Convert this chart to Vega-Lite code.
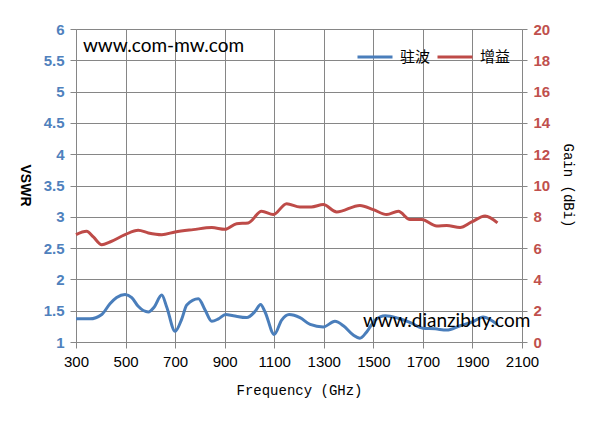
{
  "$schema": "https://vega.github.io/schema/vega-lite/v6.json",
  "width": 446,
  "height": 313,
  "autosize": "none",
  "padding": {"left": 76, "top": 29, "right": 72, "bottom": 83},
  "background": "white",
  "config": {"view": {"stroke": null}},
  "datasets": {
    "vswr": [
      {"f": 300, "v": 1.37}, {"f": 356, "v": 1.37}, {"f": 404, "v": 1.44}, {"f": 437, "v": 1.61},
      {"f": 464, "v": 1.71}, {"f": 498, "v": 1.76}, {"f": 525, "v": 1.71}, {"f": 551, "v": 1.57},
      {"f": 592, "v": 1.48}, {"f": 616, "v": 1.56}, {"f": 646, "v": 1.75}, {"f": 666, "v": 1.56},
      {"f": 700, "v": 1.17}, {"f": 727, "v": 1.37}, {"f": 747, "v": 1.59}, {"f": 794, "v": 1.69},
      {"f": 821, "v": 1.51}, {"f": 848, "v": 1.33}, {"f": 875, "v": 1.37}, {"f": 904, "v": 1.44},
      {"f": 935, "v": 1.42}, {"f": 989, "v": 1.39}, {"f": 1023, "v": 1.49}, {"f": 1045, "v": 1.6},
      {"f": 1063, "v": 1.48}, {"f": 1100, "v": 1.12}, {"f": 1130, "v": 1.35}, {"f": 1160, "v": 1.44},
      {"f": 1204, "v": 1.39}, {"f": 1245, "v": 1.28}, {"f": 1298, "v": 1.24}, {"f": 1345, "v": 1.33},
      {"f": 1379, "v": 1.26}, {"f": 1419, "v": 1.11}, {"f": 1446, "v": 1.06}, {"f": 1473, "v": 1.16},
      {"f": 1507, "v": 1.35}, {"f": 1548, "v": 1.42}, {"f": 1600, "v": 1.38}, {"f": 1650, "v": 1.31},
      {"f": 1700, "v": 1.22}, {"f": 1750, "v": 1.21}, {"f": 1796, "v": 1.19}, {"f": 1850, "v": 1.26},
      {"f": 1900, "v": 1.32}, {"f": 1943, "v": 1.4}, {"f": 2000, "v": 1.28}
    ],
    "gain": [
      {"f": 300, "g": 6.86}, {"f": 343, "g": 7.07}, {"f": 370, "g": 6.71}, {"f": 404, "g": 6.22},
      {"f": 437, "g": 6.39}, {"f": 498, "g": 6.86}, {"f": 551, "g": 7.14}, {"f": 592, "g": 6.97},
      {"f": 646, "g": 6.86}, {"f": 700, "g": 7.03}, {"f": 773, "g": 7.18}, {"f": 848, "g": 7.31},
      {"f": 901, "g": 7.2}, {"f": 948, "g": 7.56}, {"f": 995, "g": 7.61}, {"f": 1049, "g": 8.35},
      {"f": 1096, "g": 8.14}, {"f": 1150, "g": 8.84}, {"f": 1204, "g": 8.63}, {"f": 1250, "g": 8.63},
      {"f": 1298, "g": 8.78}, {"f": 1352, "g": 8.31}, {"f": 1446, "g": 8.73}, {"f": 1500, "g": 8.46},
      {"f": 1554, "g": 8.14}, {"f": 1601, "g": 8.35}, {"f": 1648, "g": 7.82}, {"f": 1695, "g": 7.82},
      {"f": 1756, "g": 7.41}, {"f": 1796, "g": 7.44}, {"f": 1850, "g": 7.31}, {"f": 1897, "g": 7.67},
      {"f": 1951, "g": 8.05}, {"f": 2001, "g": 7.61}
    ]
  },
  "layer": [
    {
      "data": {"name": "vswr"},
      "mark": {"type": "line", "interpolate": "monotone", "strokeWidth": 3},
      "encoding": {
        "x": {
          "field": "f", "type": "quantitative",
          "scale": {"domain": [300, 2100], "nice": false, "zero": false},
          "axis": {
            "title": "Frequency (GHz)",
            "values": [300, 500, 700, 900, 1100, 1300, 1500, 1700, 1900, 2100],
            "format": "d",
            "labelOverlap": false, "labelFlush": false, "labelBound": false,
            "grid": true, "gridColor": "#868686", "gridOpacity": 1, "gridWidth": 1,
            "domainColor": "#868686", "tickColor": "#868686", "tickSize": 6,
            "labelFont": "Liberation Sans", "labelFontSize": 15, "labelColor": "black",
            "labelPadding": 6,
            "titleFont": "Liberation Mono", "titleFontSize": 14, "titleFontWeight": "normal",
            "titleColor": "black", "titleX": 223, "titleY": 48, "titleBaseline": "middle"
          }
        },
        "y": {
          "field": "v", "type": "quantitative",
          "scale": {"domain": [1, 6], "nice": false, "zero": false},
          "axis": {
            "title": "VSWR",
            "values": [1, 1.5, 2, 2.5, 3, 3.5, 4, 4.5, 5, 5.5, 6],
            "format": "~g",
            "labelOverlap": false, "labelFlush": false, "labelBound": false,
            "grid": true, "gridColor": "#868686", "gridOpacity": 1, "gridWidth": 1,
            "domainColor": "#868686", "tickColor": "#868686", "tickSize": 6,
            "labelFont": "Liberation Sans", "labelFontSize": 15, "labelFontWeight": "bold",
            "labelColor": "#4F81BD", "labelPadding": 6,
            "titleFont": "Liberation Sans", "titleFontSize": 14, "titleFontWeight": "bold",
            "titleColor": "black", "titleAngle": 90, "titleX": -52, "titleY": 156,
            "titleAlign": "center", "titleBaseline": "middle"
          }
        },
        "color": {
          "datum": "驻波",
          "scale": {"domain": ["驻波", "增益"], "range": ["#4A7EBB", "#BE4B48"]},
          "legend": {
            "title": null, "orient": "none", "direction": "horizontal",
            "legendX": 280, "legendY": 9,
            "symbolType": "stroke", "symbolSize": 1225, "symbolStrokeWidth": 3,
            "labelFont": "Noto Sans CJK SC", "labelFontSize": 15, "labelColor": "black",
            "labelOffset": 6, "columnPadding": 0
          }
        }
      }
    },
    {
      "data": {"name": "gain"},
      "mark": {"type": "line", "interpolate": "monotone", "strokeWidth": 3},
      "encoding": {
        "x": {"field": "f", "type": "quantitative"},
        "y": {
          "field": "g", "type": "quantitative",
          "scale": {"domain": [0, 20], "nice": false},
          "axis": {
            "orient": "right",
            "title": "Gain (dBi)",
            "values": [0, 2, 4, 6, 8, 10, 12, 14, 16, 18, 20],
            "labelOverlap": false, "labelFlush": false, "labelBound": false,
            "grid": false,
            "domainColor": "#868686", "tickColor": "#868686", "tickSize": 5,
            "labelFont": "Liberation Sans", "labelFontSize": 15, "labelFontWeight": "bold",
            "labelColor": "#C0504D", "labelPadding": 6,
            "titleFont": "Liberation Mono", "titleFontSize": 14, "titleFontWeight": "normal",
            "titleColor": "black", "titleAngle": 90, "titleX": 45, "titleY": 156,
            "titleAlign": "center", "titleBaseline": "middle"
          }
        },
        "color": {"datum": "增益"}
      }
    },
    {
      "data": {"values": [{}]},
      "mark": {"type": "text", "align": "left", "baseline": "alphabetic", "font": "Lato", "fontSize": 19, "color": "black"},
      "encoding": {
        "x": {"datum": 328, "type": "quantitative"},
        "y": {"datum": 5.633, "type": "quantitative", "scale": {"domain": [1, 6], "nice": false, "zero": false}, "axis": null},
        "text": {"value": "www.com-mw.com"}
      }
    },
    {
      "data": {"values": [{}]},
      "mark": {"type": "text", "align": "left", "baseline": "alphabetic", "font": "Lato", "fontSize": 19, "color": "black"},
      "encoding": {
        "x": {"datum": 1458, "type": "quantitative"},
        "y": {"datum": 1.235, "type": "quantitative", "scale": {"domain": [1, 6], "nice": false, "zero": false}, "axis": null},
        "text": {"value": "www.dianzibuy.com"}
      }
    }
  ],
  "resolve": {"scale": {"y": "independent"}}
}
